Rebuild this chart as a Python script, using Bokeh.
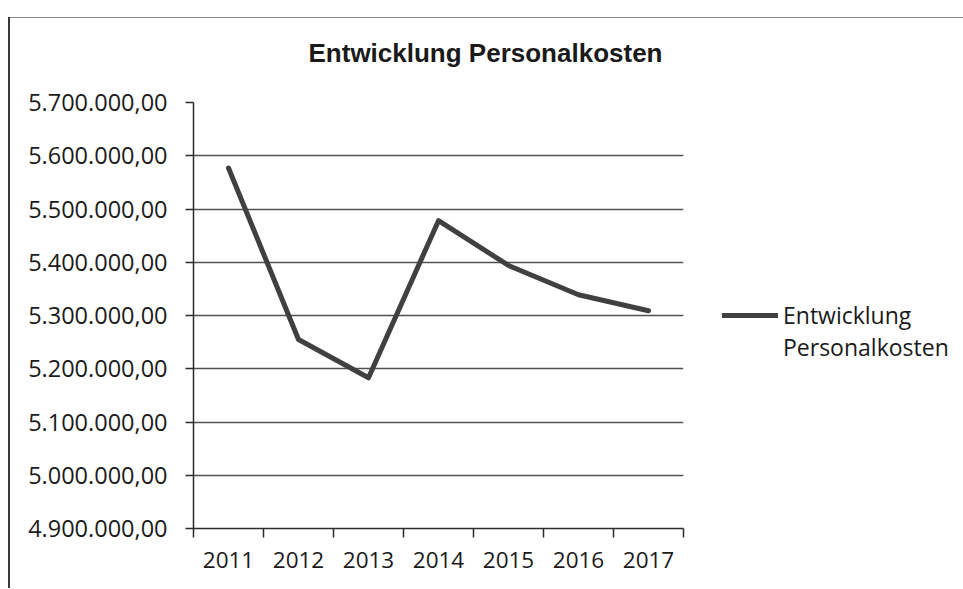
from bokeh.plotting import figure
from bokeh.models import Range1d, FixedTicker, Legend, LegendItem
from bokeh.embed import file_html
from bokeh.resources import INLINE

# Personnel cost per year
years = ["2011", "2012", "2013", "2014", "2015", "2016", "2017"]
costs = [5577000, 5255000, 5183000, 5478000, 5394000, 5339000, 5309000]

# y-axis ticks
y_ticks = [4900000, 5000000, 5100000, 5200000, 5300000, 5400000, 5500000, 5600000, 5700000]

series_name = "Entwicklung Personalkosten"
legend_lines = ["Entwicklung", "Personalkosten"]


def de_format(v):
    # German number format: 5.700.000,00
    s = f"{v:,.2f}"
    return s.replace(",", "#").replace(".", ",").replace("#", ".")


x_pos = [i + 0.5 for i in range(len(years))]

p = figure(
    frame_width=490, frame_height=426,
    x_range=Range1d(0, len(years)),
    y_range=Range1d(y_ticks[0], y_ticks[-1]),
    output_backend="svg", toolbar_location=None,
    min_border_left=185, min_border_right=270,
    min_border_top=102, min_border_bottom=60,
)
# chart-area frame: dark left edge, thin grey top edge
p.margin = (0, 0, 0, 8)
p.styles = {
    "background": (
        "linear-gradient(#3a3a3a, #3a3a3a) 0 17px / 2px 100% no-repeat, "
        "linear-gradient(#8a8a8a, #8a8a8a) 0 17px / 100% 1px no-repeat, white"
    ),
}
p.outline_line_color = None
p.background_fill_color = "white"
p.border_fill_alpha = 0

# title
p.title.text = series_name
p.title.align = "left"
p.title.offset = 115
p.title.standoff = 70
p.title.text_font = "Liberation Sans"
p.title.text_font_style = "bold"
p.title.text_font_size = "26px"
p.title.text_color = "#1a1a1a"

# x axis: labels centred on categories, tick marks between them
xt = FixedTicker(ticks=x_pos, minor_ticks=list(range(len(years) + 1)))
p.xaxis.ticker = xt
p.xaxis.major_label_overrides = {x: y for x, y in zip(x_pos, years)}
p.xaxis.major_tick_out = 0
p.xaxis.major_tick_in = 0
p.xaxis.minor_tick_out = 9
p.xaxis.minor_tick_in = 0
p.xaxis.minor_tick_line_color = "#2a2a2a"
p.xaxis.minor_tick_line_width = 1.5
p.xaxis.axis_line_color = "#2a2a2a"
p.xaxis.axis_line_width = 1.5
p.xaxis.major_label_standoff = 14
p.xaxis.major_label_text_font = "Open Sans"
p.xaxis.major_label_text_font_size = "22.5px"
p.xaxis.major_label_text_color = "#1a1a1a"

# y axis
yt = FixedTicker(ticks=y_ticks, minor_ticks=[])
p.yaxis.ticker = yt
p.yaxis.major_label_overrides = {v: de_format(v) for v in y_ticks}
p.yaxis.major_tick_out = 8
p.yaxis.major_tick_in = 0
p.yaxis.minor_tick_out = 0
p.yaxis.minor_tick_in = 0
p.yaxis.major_tick_line_color = "#2a2a2a"
p.yaxis.major_tick_line_width = 1.5
p.yaxis.axis_line_color = "#2a2a2a"
p.yaxis.axis_line_width = 1.5
p.yaxis.major_label_standoff = 18
p.yaxis.major_label_text_font = "Open Sans"
p.yaxis.major_label_text_font_size = "23.5px"
p.yaxis.major_label_text_color = "#1a1a1a"

p.xgrid.visible = False
p.ygrid.ticker = yt
p.ygrid.grid_line_color = "#505050"
p.ygrid.grid_line_width = 1.5

# data line
r = p.line(x_pos, costs, line_color="#404040", line_width=5,
           line_join="round", line_cap="round")
# second legend row carries only text
blank = p.line(x=[], y=[], line_alpha=0)

# legend in the right-hand panel
legend = Legend(
    items=[LegendItem(label=legend_lines[0], renderers=[r]),
           LegendItem(label=legend_lines[1], renderers=[blank])],
    location=(39, 165),
    orientation="vertical",
    spacing=0, padding=0, margin=0,
    glyph_width=56, glyph_height=32, label_height=32,
    label_standoff=5,
    label_text_font="Open Sans", label_text_font_size="23px",
    label_text_color="#1a1a1a",
    border_line_alpha=0, background_fill_alpha=0,
)
p.add_layout(legend, "right")

open("out.html", "w").write(file_html(p, INLINE))
